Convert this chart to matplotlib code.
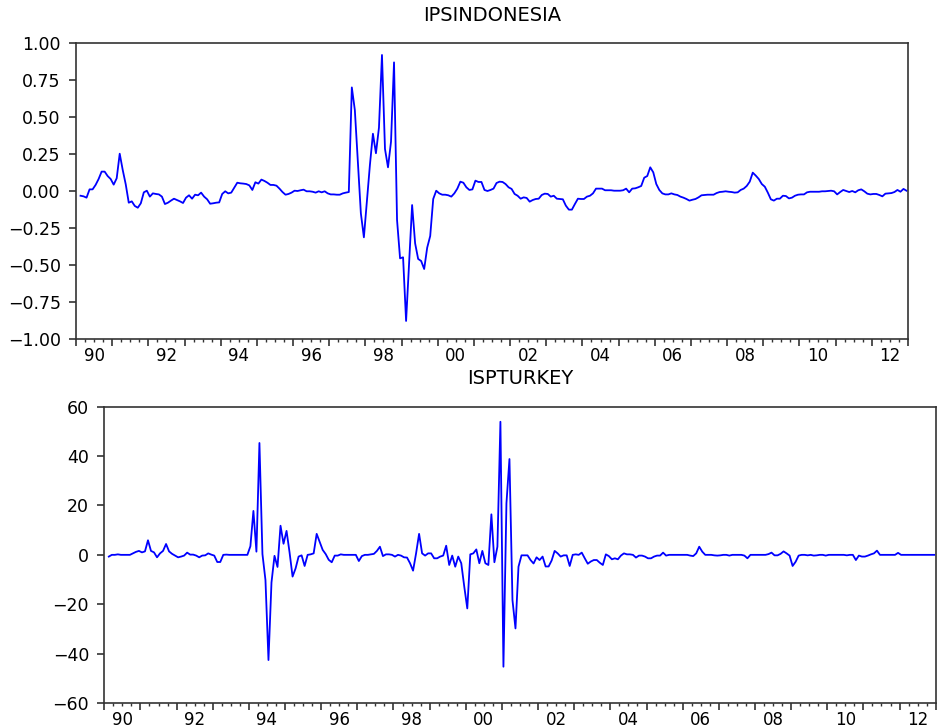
import numpy as np
import pandas as pd
import matplotlib
matplotlib.use('Agg')
import matplotlib.pyplot as plt

# monthly observations, 1990M02 .. 2012M12
months = pd.period_range('1990-02', '2012-12', freq='M')

ips_indonesia = [
    # 1990 (Feb-Dec)
    -0.032, -0.036, -0.045, 0.011, 0.011, 0.041, 0.081, 0.131, 0.131, 0.101, 0.081,
    # 1991
    0.043, 0.086, 0.252, 0.142, 0.045, -0.079, -0.070, -0.101, -0.113, -0.083, -0.009, 0.002,
    # 1992
    -0.038, -0.016, -0.020, -0.023, -0.038, -0.088, -0.079, -0.065, -0.052, -0.061, -0.070, -0.081,
    # 1993
    -0.045, -0.029, -0.052, -0.025, -0.029, -0.011, -0.038, -0.056, -0.086, -0.083, -0.079, -0.077,
    # 1994
    -0.020, -0.002, -0.016, -0.011, 0.023, 0.056, 0.052, 0.050, 0.047, 0.038, 0.007, 0.059,
    # 1995
    0.050, 0.077, 0.068, 0.056, 0.041, 0.041, 0.036, 0.016, -0.007, -0.025, -0.020, -0.011,
    # 1996
    0.002, 0.000, 0.005, 0.009, -0.002, -0.002, -0.005, -0.011, -0.002, -0.009, -0.002, -0.016,
    # 1997
    -0.023, -0.023, -0.025, -0.025, -0.016, -0.011, -0.007, 0.700, 0.547, 0.198, -0.151, -0.313,
    # 1998
    -0.072, 0.176, 0.387, 0.255, 0.428, 0.919, 0.284, 0.160, 0.333, 0.869, -0.196, -0.455,
    # 1999
    -0.448, -0.878, -0.490, -0.095, -0.354, -0.459, -0.473, -0.527, -0.383, -0.304, -0.054, 0.002,
    # 2000
    -0.016, -0.025, -0.025, -0.029, -0.038, -0.016, 0.016, 0.063, 0.056, 0.025, 0.007, 0.011,
    # 2001
    0.070, 0.061, 0.061, 0.007, 0.000, 0.007, 0.016, 0.054, 0.063, 0.061, 0.047, 0.025,
    # 2002
    0.014, -0.020, -0.032, -0.052, -0.043, -0.047, -0.072, -0.061, -0.054, -0.052, -0.027, -0.018,
    # 2003
    -0.020, -0.038, -0.032, -0.052, -0.054, -0.056, -0.099, -0.126, -0.126, -0.088, -0.052, -0.054,
    # 2004
    -0.054, -0.038, -0.032, -0.016, 0.016, 0.016, 0.016, 0.005, 0.005, 0.005, 0.002, 0.002,
    # 2005
    0.002, 0.005, 0.016, -0.009, 0.016, 0.018, 0.025, 0.034, 0.090, 0.101, 0.160, 0.126,
    # 2006
    0.047, 0.007, -0.016, -0.023, -0.023, -0.016, -0.023, -0.027, -0.038, -0.045, -0.054, -0.065,
    # 2007
    -0.059, -0.054, -0.043, -0.029, -0.027, -0.025, -0.025, -0.025, -0.014, -0.007, -0.005, -0.002,
    # 2008
    -0.005, -0.007, -0.011, -0.009, 0.007, 0.016, 0.034, 0.063, 0.124, 0.104, 0.081, 0.047,
    # 2009
    0.029, -0.011, -0.056, -0.065, -0.052, -0.052, -0.032, -0.034, -0.050, -0.045, -0.032, -0.025,
    # 2010
    -0.023, -0.023, -0.009, -0.005, -0.005, -0.005, -0.005, -0.002, -0.002, 0.000, 0.002, -0.002,
    # 2011
    -0.023, -0.007, 0.007, 0.000, -0.007, 0.000, -0.009, 0.005, 0.011, -0.002, -0.018, -0.023,
    # 2012
    -0.020, -0.020, -0.027, -0.036, -0.018, -0.016, -0.014, -0.007, 0.007, -0.005, 0.014, 0.002,
]

isp_turkey = [
    # 1990 (Feb-Dec)
    -0.7, 0.0, 0.0, 0.2, 0.0, 0.0, 0.0, 0.0, 0.6, 1.2, 1.6,
    # 1991
    1.0, 1.4, 5.9, 1.6, 1.0, -1.0, 0.6, 1.6, 4.4, 1.4, 0.4, -0.3,
    # 1992
    -1.0, -0.7, -0.3, 0.9, 0.1, 0.1, -0.3, -1.0, -0.3, -0.2, 0.6, 0.1,
    # 1993
    -0.3, -2.9, -2.9, 0.0, 0.1, 0.0, 0.0, 0.0, 0.0, 0.0, 0.0, 0.0,
    # 1994
    3.5, 17.8, 1.3, 45.3, 0.3, -10.2, -42.6, -11.2, -0.4, -4.9, 11.8, 4.5,
    # 1995
    9.7, 1.0, -8.8, -5.5, -0.7, -0.2, -4.5, 0.0, 0.2, 0.6, 8.5, 5.3,
    # 1996
    2.0, 0.3, -2.0, -3.0, -0.3, -0.3, 0.2, 0.0, 0.0, 0.0, 0.0, 0.0,
    # 1997
    -2.5, -0.5, 0.0, 0.0, 0.2, 0.4, 1.6, 3.3, -0.5, 0.2, 0.2, 0.0,
    # 1998
    -0.7, 0.0, -0.3, -1.0, -1.1, -3.4, -6.4, 0.6, 8.5, 0.6, -0.3, 0.6,
    # 1999
    0.6, -1.4, -1.4, -0.7, -0.3, 3.7, -4.1, -0.3, -4.8, -0.7, -3.4, -12.9,
    # 2000
    -21.7, 0.2, 0.6, 2.2, -3.4, 1.6, -3.4, -4.1, 16.4, -3.0, 3.3, 53.9,
    # 2001
    -45.3, 20.9, 38.8, -18.3, -29.8, -4.8, -0.2, -0.2, -0.2, -2.1, -3.5, -1.0,
    # 2002
    -2.1, -0.7, -4.7, -4.7, -2.3, 1.6, 0.6, -0.7, -0.2, -0.2, -4.5, 0.0,
    # 2003
    0.2, 0.0, 0.9, -1.4, -3.6, -2.7, -2.1, -2.1, -3.2, -4.1, 0.2, -0.5,
    # 2004
    -1.8, -1.4, -1.8, -0.3, 0.6, 0.2, 0.2, 0.0, -1.1, -0.3, -0.3, -0.7,
    # 2005
    -1.4, -1.4, -0.7, -0.3, -0.3, 0.9, -0.3, 0.0, 0.0, 0.0, 0.0, 0.0,
    # 2006
    0.0, 0.0, -0.3, -0.5, 0.6, 3.3, 1.3, 0.0, 0.0, 0.0, -0.2, -0.3,
    # 2007
    -0.2, 0.0, 0.0, -0.3, 0.0, 0.0, 0.0, 0.0, -0.3, -1.4, 0.0, 0.0,
    # 2008
    0.0, 0.0, 0.0, 0.0, 0.3, 0.9, -0.2, -0.2, 0.4, 1.4, 0.6, -0.3,
    # 2009
    -4.5, -2.8, -0.3, 0.0, 0.0, -0.2, 0.0, -0.3, -0.2, 0.0, 0.0, -0.3,
    # 2010
    0.0, 0.0, 0.0, 0.0, 0.0, 0.0, -0.2, 0.0, 0.0, -2.1, -0.3, -0.7,
    # 2011
    -0.7, -0.3, 0.2, 0.6, 1.7, 0.0, 0.0, 0.0, 0.0, 0.0, 0.0, 0.8,
    # 2012
    0.0, 0.0, 0.0, 0.0, 0.0, 0.0, 0.0, 0.0, 0.0, 0.0, 0.0, 0.0,
]

top_yticks = [-1.00, -0.75, -0.50, -0.25, 0.00, 0.25, 0.50, 0.75, 1.00]
bottom_yticks = [-60, -40, -20, 0, 20, 40, 60]
year_labels = ['90', '92', '94', '96', '98', '00', '02', '04', '06', '08', '10', '12']

# x position of each observation = middle of its month, in decimal years
t = np.array([p.year + (p.month - 0.5) / 12 for p in months])

plt.rcParams['font.family'] = ['DejaVu Sans']
LINE = '#0000FF'
FRAME = '#333333'


def style_axis(ax, yticks, ylabels, ylim, title):
    ax.set_xlim(1990, 2013)
    ax.set_ylim(*ylim)
    for s in ax.spines.values():
        s.set_color(FRAME)
        s.set_linewidth(1.2)

    # yearly major ticks, quarterly minor ticks, labels at mid-year
    years = np.arange(1990, 2014)
    ax.set_xticks(years)
    ax.set_xticklabels([''] * len(years))
    quarters = [y + q / 4 for y in range(1990, 2013) for q in (1, 2, 3)]
    ax.set_xticks(quarters, minor=True)
    qlabels = []
    for q in quarters:
        if abs(q % 2 - 0.5) < 1e-6:
            qlabels.append(year_labels[int((q - 1990.5) / 2)])
        else:
            qlabels.append('')
    ax.set_xticklabels(qlabels, minor=True)
    ax.tick_params(axis='x', which='major', direction='out', length=5,
                   width=1.2, color=FRAME)
    ax.tick_params(axis='x', which='minor', direction='out', length=2.5,
                   width=1.0, color=FRAME, pad=3.5, labelsize=12)

    ax.set_yticks(yticks)
    ax.set_yticklabels(ylabels)
    ax.tick_params(axis='y', direction='out', length=5, width=1.2,
                   color=FRAME, pad=6, labelsize=12.5)
    ax.set_title(title, fontsize=14, pad=16)


fig = plt.figure(figsize=(9.39, 7.28), dpi=100)

ax1 = fig.add_axes([76 / 939, 1 - 339 / 728, 832 / 939, 296 / 728])
ax1.plot(t, ips_indonesia, color=LINE, linewidth=1.3)
style_axis(ax1, top_yticks,
           [f'{v:.2f}'.replace('-', '\u2212') for v in top_yticks],
           (-1.0, 1.0), 'IPSINDONESIA')

ax2 = fig.add_axes([104.3 / 939, 1 - 703 / 728, 831.4 / 939, 296.3 / 728])
ax2.plot(t, isp_turkey, color=LINE, linewidth=1.3)
style_axis(ax2, bottom_yticks,
           [str(v).replace('-', '\u2212') for v in bottom_yticks],
           (-60, 60), 'ISPTURKEY')

fig.savefig('out.png', dpi=100)
